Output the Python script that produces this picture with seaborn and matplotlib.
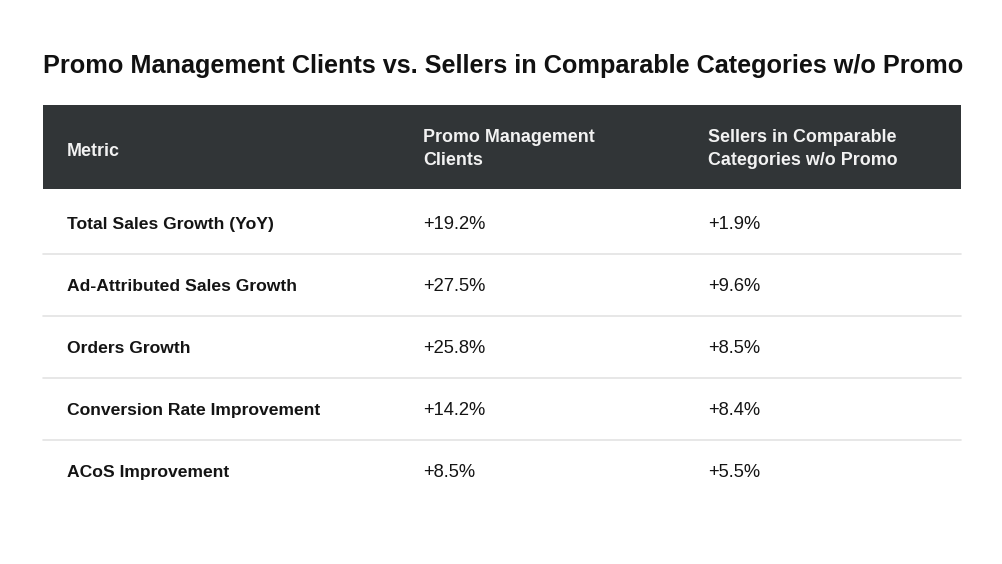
import matplotlib
matplotlib.use("Agg")
import matplotlib.pyplot as plt
import seaborn as sns

# Table content
title = "Promo Management Clients vs. Sellers in Comparable Categories w/o Promo"
headers = ["Metric", "Promo Management\nClients", "Sellers in Comparable\nCategories w/o Promo"]
metrics = ["Total Sales Growth (YoY)", "Ad-Attributed Sales Growth", "Orders Growth",
           "Conversion Rate Improvement", "ACoS Improvement"]
promo_clients = [19.2, 27.5, 25.8, 14.2, 8.5]
comparable_sellers = [1.9, 9.6, 8.5, 8.4, 5.5]

sns.set_theme(style="white")
plt.rcParams['font.family'] = ['Liberation Sans', 'DejaVu Sans']

W, H = 1002, 564
fig = plt.figure(figsize=(W / 100, H / 100), dpi=100)
ax = fig.add_axes([0, 0, 1, 1])
ax.set_xlim(0, W)
ax.set_ylim(H, 0)
ax.axis('off')

# layout (pixels)
left, right = 43, 961
head_top, head_bot = 105, 189
row_h = 62
col_x = [67, 423, 708]
header_bg = '#313537'
line_col = '#e3e3e3'
text_col = '#141414'
fs = 12.9

# title, scaled to span the table width
t = ax.text(left, 66, title, fontsize=16, fontweight='bold', color='#111111',
            ha='left', va='center')
fig.canvas.draw()
bb = t.get_window_extent()
t.set_fontsize(16 * (right - left) / bb.width)

# header band
ax.add_patch(plt.Rectangle((left, head_top), right - left, head_bot - head_top,
                           color=header_bg, lw=0))
for x, h in zip(col_x, headers):
    dy = 2 if '\n' in h else 5
    ax.text(x, (head_top + head_bot) / 2 + dy, h, color='#f2f2f2', fontsize=fs,
            fontweight='bold', ha='left', va='center', linespacing=1.5)

# body rows (baseline aligned)
for i, (m, a, b) in enumerate(zip(metrics, promo_clients, comparable_sellers)):
    yb = head_bot + 40 + i * row_h
    ax.text(col_x[0], yb, m, fontsize=12.6, fontweight='bold', color=text_col,
            ha='left', va='baseline')
    ax.text(col_x[1], yb, f"+{a:.1f}%", fontsize=fs + 0.3, color=text_col,
            ha='left', va='baseline')
    ax.text(col_x[2], yb, f"+{b:.1f}%", fontsize=fs + 0.3, color=text_col,
            ha='left', va='baseline')
    if i < len(metrics) - 1:
        ysep = head_bot + 65 + i * row_h
        ax.plot([left, right], [ysep, ysep], color=line_col, lw=1.2)

fig.savefig('out.png', dpi=100)
